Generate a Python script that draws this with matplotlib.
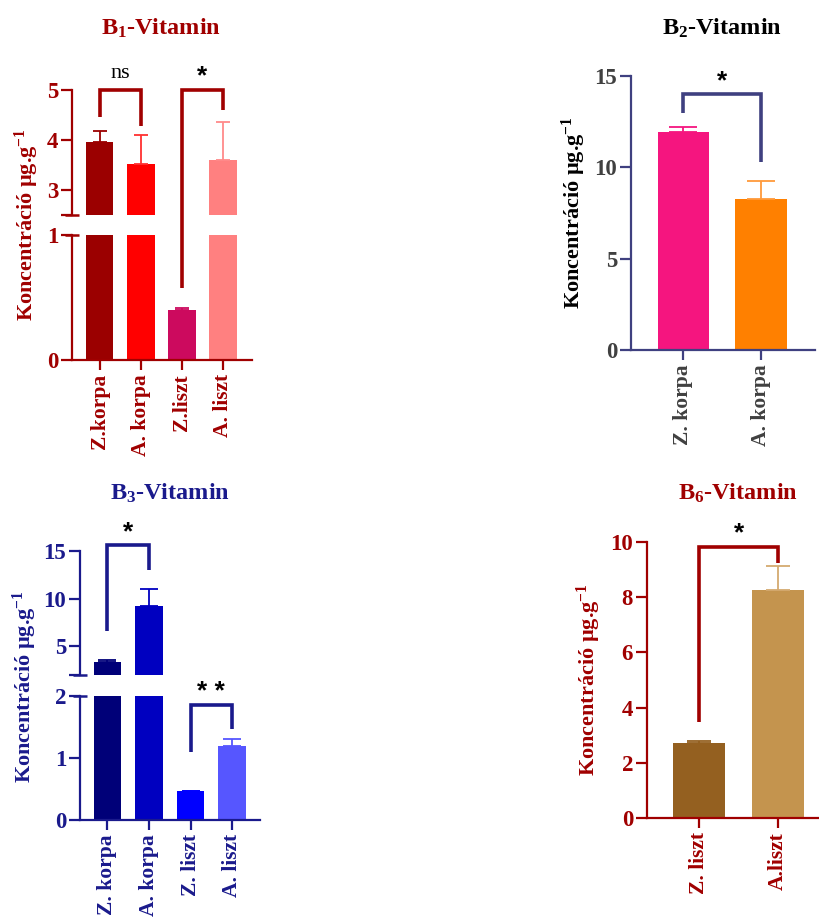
import matplotlib
matplotlib.use("Agg")
import matplotlib.pyplot as plt
from matplotlib.lines import Line2D

plt.rcParams['font.family'] = ['Liberation Serif', 'DejaVu Serif']
plt.rcParams['font.weight'] = 'bold'
plt.rcParams['mathtext.fontset'] = 'custom'
plt.rcParams['mathtext.rm'] = 'Liberation Serif:bold'
plt.rcParams['mathtext.it'] = 'Liberation Serif:bold'
plt.rcParams['mathtext.bf'] = 'Liberation Serif:bold'
plt.rcParams['mathtext.default'] = 'rm'

# ---- data -------------------------------------------------------------
b1_labels = ["Z.korpa", "A. korpa", "Z.liszt", "A. liszt"]
b1_means = [3.97, 3.52, 0.40, 3.61]
b1_sd = [0.21, 0.58, 0.02, 0.75]
# (bar i, bar j, bracket top, left leg end, right leg end, label)
b1_brackets = [(0, 1, 5.0, 4.47, 4.28, "ns"), (2, 3, 5.0, 0.58, 4.60, "*")]

b2_labels = ["Z. korpa", "A. korpa"]
b2_means = [11.92, 8.27]
b2_sd = [0.27, 1.00]
b2_brackets = [(0, 1, 14.0, 12.95, 10.3, "*")]

b3_labels = ["Z. korpa", "A. korpa", "Z. liszt", "A. liszt"]
b3_means = [3.37, 9.26, 0.47, 1.20]
b3_sd = [0.16, 1.78, 0.0, 0.10]
b3_brackets = [(0, 1, 15.6, 6.64, 13.0, "*"), (2, 3, 1.85, 1.09, 1.46, "* *")]

b6_labels = ["Z. liszt", "A.liszt"]
b6_means = [2.71, 8.25]
b6_sd = [0.09, 0.87]
b6_brackets = [(0, 1, 9.82, 3.49, 9.24, "*")]

# ---- figure -----------------------------------------------------------
W, H = 820, 918
fig = plt.figure(figsize=(W / 100, H / 100), dpi=100)

TICK_FS = 16.5
XLAB_FS = 15.5
TITLE_FS = 17.5
YLAB_FS = 16


def axes_px(left, top, right, bottom):
    return fig.add_axes([left / W, 1 - bottom / H, (right - left) / W, (bottom - top) / H])


def style_axis(ax, color, tickcolor, xaxis=True):
    for s in ['top', 'right']:
        ax.spines[s].set_visible(False)
    ax.spines['left'].set_color(color)
    ax.spines['left'].set_linewidth(1.6)
    ax.tick_params(axis='y', colors=color, labelcolor=tickcolor, length=8, width=1.6,
                   labelsize=TICK_FS, pad=2)
    if xaxis:
        ax.spines['bottom'].set_color(color)
        ax.spines['bottom'].set_linewidth(1.6)
        ax.tick_params(axis='x', colors=color, labelcolor=tickcolor, length=7, width=1.6,
                       labelsize=XLAB_FS, pad=3)
    else:
        ax.spines['bottom'].set_visible(False)
        ax.tick_params(axis='x', bottom=False, labelbottom=False)
    ax.patch.set_alpha(0)


def draw_bars(ax, means, sd, colors, ecolors, width, capsize):
    x = list(range(len(means)))
    ax.bar(x, means, width=width, color=colors, linewidth=0, zorder=2)
    for xi, m, s, ec in zip(x, means, sd, ecolors):
        ax.errorbar([xi], [m], yerr=[[0], [s]], fmt='none', ecolor=ec,
                    elinewidth=1.3, capsize=capsize, capthick=1.3, zorder=3)


def to_fig(ax, x, y):
    return fig.transFigure.inverted().transform(ax.transData.transform((x, y)))


def draw_brackets(brackets, pick_ax, color, star_dy=1, fs_star=19):
    for i, j, top, le, re, lab in brackets:
        pts = [to_fig(pick_ax(le), i, le), to_fig(pick_ax(top), i, top),
               to_fig(pick_ax(top), j, top), to_fig(pick_ax(re), j, re)]
        xs = [p[0] for p in pts]
        ys = [p[1] for p in pts]
        fig.add_artist(Line2D(xs, ys, transform=fig.transFigure, color=color, lw=2.6,
                              solid_joinstyle='miter', solid_capstyle='butt', zorder=5))
        tax = pick_ax(top)
        if lab == "ns":
            tax.annotate(lab, xy=((i + j) / 2, top), xytext=(0, 5),
                         textcoords='offset points', ha='center', va='bottom',
                         fontsize=16, fontweight='normal', color='black',
                         annotation_clip=False)
        else:
            tax.annotate(lab, xy=((i + j) / 2, top), xytext=(0, star_dy),
                         textcoords='offset points', ha='center', va='bottom',
                         fontsize=fs_star, fontweight='bold', color='black',
                         family='Liberation Sans', annotation_clip=False)


def break_mark(ax, y, color):
    ax.plot([ax.get_xlim()[0]], [y], marker='_', markersize=10, markeredgewidth=1.8,
            color=color, clip_on=False, zorder=4)


ylab = "Koncentráció µg.g$^{-1}$"

# ---- B1 (broken y axis) -------------------------------------------------
c1 = '#A00000'
b1_colors = ['#9B0000', '#FF0000', '#CC0A5E', '#FF8080']
b1_ecolors = ['#9B0000', '#FF3030', '#CC0A5E', '#FF8A8A']
a1u = axes_px(72, 90, 252, 215)
a1l = axes_px(72, 235, 252, 360)
for ax in (a1u, a1l):
    draw_bars(ax, b1_means, b1_sd, b1_colors, b1_ecolors, 0.67, 4.7)
    ax.set_xlim(-0.67, 3.70)
a1u.set_ylim(2.5, 5)
a1u.set_yticks([2.5, 3, 4, 5], ['', '3', '4', '5'])
a1l.set_ylim(0, 1)
a1l.set_yticks([0, 1])
a1l.set_xticks(range(len(b1_labels)), b1_labels, rotation=90)
style_axis(a1u, c1, c1, xaxis=False)
style_axis(a1l, c1, c1)
break_mark(a1u, 2.5, c1)
break_mark(a1l, 1, c1)
draw_brackets(b1_brackets, lambda v: a1u if v >= 2.5 else a1l, c1)
fig.text(161 / W, 1 - 28 / H, "B$_1$-Vitamin", color=c1, fontsize=TITLE_FS,
         ha='center', va='center')
fig.text(27 / W, 1 - 225 / H, ylab, color=c1, fontsize=YLAB_FS, rotation=90,
         ha='center', va='center')

# ---- B2 ---------------------------------------------------------------
c2 = '#3F4080'
b2_colors = ['#F5157F', '#FF8000']
b2_ecolors = ['#F5157F', '#FF9A3A']
a2 = axes_px(631, 76, 815, 350)
draw_bars(a2, b2_means, b2_sd, b2_colors, b2_ecolors, 0.66, 10.4)
a2.set_xlim(-0.67, 1.69)
a2.set_ylim(0, 15)
a2.set_yticks([0, 5, 10, 15])
a2.set_xticks(range(len(b2_labels)), b2_labels, rotation=90)
style_axis(a2, c2, '#404040')
draw_brackets(b2_brackets, lambda v: a2, c2)
fig.text(722 / W, 1 - 28 / H, "B$_2$-Vitamin", color='black', fontsize=TITLE_FS,
         ha='center', va='center')
fig.text(574 / W, 1 - 213 / H, ylab, color='black', fontsize=YLAB_FS, rotation=90,
         ha='center', va='center')

# ---- B3 (broken y axis) -------------------------------------------------
c3 = '#1A1A8C'
b3_colors = ['#000078', '#0000C0', '#0000FF', '#5656FF']
b3_ecolors = ['#000078', '#0000C0', '#0000FF', '#5656FF']
a3u = axes_px(80, 551, 260, 675)
a3l = axes_px(80, 696, 260, 820)
for ax in (a3u, a3l):
    draw_bars(ax, b3_means, b3_sd, b3_colors, b3_ecolors, 0.66, 6.5)
    ax.set_xlim(-0.66, 3.67)
a3u.set_ylim(2, 15)
a3u.set_yticks([2, 5, 10, 15], ['', '5', '10', '15'])
a3l.set_ylim(0, 2)
a3l.set_yticks([0, 1, 2])
a3l.set_xticks(range(len(b3_labels)), b3_labels, rotation=90)
style_axis(a3u, c3, c3, xaxis=False)
style_axis(a3l, c3, c3)
break_mark(a3u, 2, c3)
break_mark(a3l, 2, c3)
draw_brackets(b3_brackets, lambda v: a3u if v >= 2 else a3l, c3)
fig.text(170 / W, 1 - 493 / H, "B$_3$-Vitamin", color=c3, fontsize=TITLE_FS,
         ha='center', va='center')
fig.text(25 / W, 1 - 687 / H, ylab, color=c3, fontsize=YLAB_FS, rotation=90,
         ha='center', va='center')

# ---- B6 ---------------------------------------------------------------
c6 = '#A00000'
b6_colors = ['#946020', '#C4944E']
b6_ecolors = ['#946020', '#D4AA70']
a6 = axes_px(647, 542, 820, 818)
draw_bars(a6, b6_means, b6_sd, b6_colors, b6_ecolors, 0.66, 8.4)
a6.set_xlim(-0.66, 1.53)
a6.set_ylim(0, 10)
a6.set_yticks([0, 2, 4, 6, 8, 10])
a6.set_xticks(range(len(b6_labels)), b6_labels, rotation=90)
style_axis(a6, c6, c6)
draw_brackets(b6_brackets, lambda v: a6, c6)
fig.text(738 / W, 1 - 493 / H, "B$_6$-Vitamin", color=c6, fontsize=TITLE_FS,
         ha='center', va='center')
fig.text(589 / W, 1 - 680 / H, ylab, color=c6, fontsize=YLAB_FS, rotation=90,
         ha='center', va='center')

fig.savefig("out.png", dpi=100)
